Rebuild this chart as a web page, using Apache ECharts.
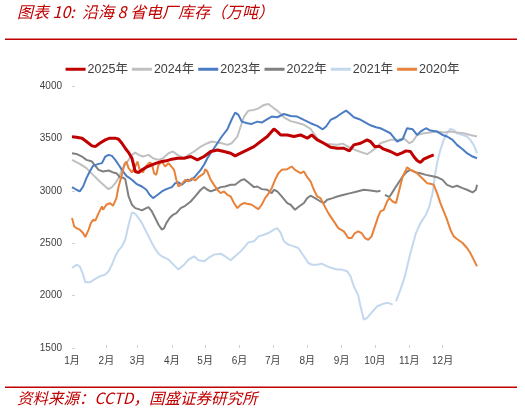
<!DOCTYPE html>
<html>
<head>
<meta charset="utf-8">
<script src="https://cdn.jsdelivr.net/npm/echarts@6/dist/echarts.min.js"></script>
<style>
html,body{margin:0;padding:0;background:#fff;}
#chart{width:525px;height:411px;}
</style>
</head>
<body>
<div id="chart"></div>
<script>
const monthStarts = [0,31,59,90,120,151,181,212,243,273,304,334];
const monthLabels = ['1月','2月','3月','4月','5月','6月','7月','8月','9月','10月','11月','12月'];
const yearNames = ['2025年','2024年','2023年','2022年','2021年','2020年'];
const yearColors = ['#C00000','#C0C0C0','#4A7CC4','#808080','#C3D8EE','#E8823A'];

const s2025 = [[0,3517],[4,3511],[9,3502],[13,3470],[18,3429],[21,3422],[25,3454],[30,3486],[34,3502],[39,3502],[42,3492],[45,3454],[48,3406],[51,3365],[54,3311],[57,3184],[60,3175],[63,3200],[67,3225],[72,3248],[76,3264],[81,3279],[85,3286],[90,3302],[95,3311],[101,3311],[107,3327],[113,3295],[119,3327],[125,3375],[131,3390],[137,3375],[143,3359],[147,3333],[152,3359],[158,3390],[164,3422],[170,3470],[176,3518],[182,3590],[185,3565],[188,3533],[194,3533],[200,3518],[206,3533],[212,3502],[216,3533],[221,3486],[227,3454],[233,3416],[239,3406],[245,3406],[250,3381],[254,3438],[260,3454],[266,3486],[269,3470],[273,3420],[277,3425],[281,3397],[287,3375],[293,3343],[298,3365],[301,3381],[305,3375],[308,3327],[311,3289],[314,3270],[317,3302],[322,3327],[326,3343]];

const s2024 = [[0,3295],[7,3257],[13,3216],[19,3152],[25,3089],[30,3041],[33,3016],[36,3035],[39,3073],[42,3121],[45,3200],[48,3248],[51,3295],[54,3343],[57,3365],[60,3343],[64,3327],[69,3343],[73,3311],[78,3295],[82,3311],[87,3359],[91,3375],[95,3343],[101,3311],[105,3343],[110,3375],[116,3422],[122,3454],[126,3470],[131,3460],[135,3454],[140,3438],[144,3454],[149,3518],[152,3613],[155,3708],[159,3765],[164,3772],[168,3787],[173,3819],[177,3829],[182,3787],[185,3765],[188,3735],[191,3700],[197,3665],[203,3650],[209,3630],[215,3590],[221,3500],[227,3450],[233,3445],[239,3440],[244,3450],[248,3425],[254,3395],[259,3375],[263,3360],[266,3350],[269,3370],[274,3410],[278,3454],[287,3486],[293,3486],[299,3502],[304,3454],[307,3470],[311,3533],[317,3549],[323,3556],[329,3565],[335,3556],[341,3565],[347,3556],[353,3549],[359,3533],[365,3518]];

const s2023 = [[0,3035],[4,3010],[7,2994],[10,3041],[13,3121],[16,3184],[19,3238],[24,3257],[27,3264],[30,3327],[33,3343],[36,3333],[39,3295],[42,3248],[45,3200],[49,3143],[54,3105],[58,3067],[63,3041],[67,3010],[70,2962],[73,2930],[76,2953],[81,2994],[85,3016],[90,3035],[93,3073],[96,3080],[99,3057],[104,3105],[107,3098],[111,3137],[116,3200],[119,3248],[122,3311],[126,3375],[131,3454],[135,3518],[140,3587],[144,3683],[147,3746],[150,3724],[153,3660],[158,3645],[162,3638],[167,3660],[171,3651],[176,3683],[180,3708],[185,3702],[191,3733],[197,3714],[203,3708],[209,3676],[215,3645],[221,3619],[226,3587],[229,3613],[233,3676],[238,3702],[242,3733],[247,3765],[250,3740],[254,3702],[259,3683],[263,3660],[269,3625],[274,3606],[278,3597],[281,3581],[287,3549],[293,3470],[298,3492],[302,3597],[307,3587],[311,3533],[314,3565],[319,3597],[323,3575],[329,3565],[334,3533],[338,3518],[343,3486],[347,3438],[352,3397],[356,3359],[361,3327],[365,3311]];

const s2022 = [[0,3359],[4,3352],[9,3327],[13,3295],[18,3279],[21,3238],[24,3200],[28,3184],[33,3194],[37,3175],[40,3168],[43,3130],[46,3125],[48,3111],[49,3057],[51,2946],[54,2867],[57,2835],[60,2825],[63,2813],[66,2830],[69,2845],[72,2803],[75,2740],[78,2676],[81,2629],[83,2644],[85,2692],[88,2740],[91,2771],[94,2787],[98,2835],[102,2857],[107,2898],[111,2946],[116,3010],[119,3035],[122,3010],[125,2994],[129,3010],[134,3035],[138,3041],[143,3057],[147,3057],[152,3098],[155,3111],[159,3079],[164,3035],[167,3041],[171,3016],[176,3010],[180,2978],[182,3010],[185,2994],[189,2946],[194,2883],[197,2867],[201,2819],[204,2845],[209,2883],[212,2930],[215,2953],[219,2930],[224,2898],[227,2883],[230,2914],[235,2930],[239,2946],[245,2962],[251,2978],[257,2994],[263,3010],[269,3003],[275,2994],[278,3000],[279,null],[282,2962],[286,2940],[289,2990],[293,3057],[298,3137],[302,3184],[305,3200],[310,3175],[314,3168],[319,3152],[323,3143],[329,3130],[334,3105],[338,3057],[343,3035],[347,3048],[352,3026],[356,3010],[361,2984],[364,3010],[365,3057]];

const s2021 = [[0,2263],[4,2295],[7,2279],[10,2200],[12,2127],[16,2127],[21,2159],[25,2184],[30,2200],[33,2232],[36,2295],[39,2375],[42,2432],[45,2470],[48,2533],[51,2676],[54,2794],[57,2781],[60,2740],[63,2692],[66,2629],[69,2565],[72,2502],[75,2444],[78,2400],[81,2375],[84,2359],[87,2343],[90,2311],[93,2279],[96,2248],[101,2295],[105,2343],[110,2375],[114,2337],[119,2327],[123,2359],[128,2391],[134,2400],[138,2375],[143,2337],[147,2375],[152,2422],[156,2470],[159,2508],[164,2518],[168,2565],[173,2581],[177,2597],[182,2629],[185,2644],[188,2600],[191,2518],[195,2486],[200,2470],[204,2454],[207,2406],[210,2359],[213,2311],[216,2295],[221,2295],[225,2305],[230,2279],[234,2264],[239,2248],[243,2248],[248,2232],[251,2184],[254,2089],[258,2000],[260,1898],[263,1771],[266,1787],[269,1825],[275,1898],[281,1924],[285,1930],[289,1914],[290,null],[292,1946],[296,2057],[300,2184],[305,2406],[310,2597],[314,2692],[319,2772],[322,2851],[325,2978],[327,3137],[329,3264],[332,3391],[335,3486],[338,3549],[341,3590],[344,3581],[347,3549],[352,3533],[356,3518],[359,3486],[362,3438],[365,3359]];

const s2020 = [[0,2740],[2,2660],[4,2644],[7,2629],[10,2597],[12,2559],[15,2629],[17,2692],[19,2724],[21,2715],[24,2787],[27,2851],[28,2819],[31,2867],[34,2883],[37,2857],[40,2930],[42,3041],[45,3152],[47,3248],[49,3279],[51,3216],[54,3175],[57,3232],[59,3279],[61,3200],[64,3175],[66,3225],[70,3270],[72,3257],[74,3168],[76,3152],[78,3248],[81,3279],[84,3232],[87,3264],[90,3225],[92,3200],[94,3105],[96,3041],[99,3067],[102,3105],[105,3089],[108,3121],[111,3098],[114,3130],[117,3152],[119,3168],[120,3206],[122,3184],[125,3105],[128,3057],[131,3010],[134,2978],[137,2994],[140,2962],[143,2946],[146,2883],[149,2835],[152,2867],[155,2883],[158,2876],[162,2867],[165,2845],[168,2825],[171,2867],[174,2930],[177,2971],[180,3025],[183,3105],[186,3168],[189,3200],[194,3206],[198,3232],[201,3200],[206,3168],[209,3184],[212,3130],[215,3089],[218,3010],[221,2946],[224,2930],[227,2867],[231,2787],[236,2708],[240,2644],[245,2613],[249,2549],[252,2549],[255,2597],[258,2613],[261,2597],[264,2549],[267,2533],[270,2565],[273,2660],[276,2756],[278,2803],[281,2819],[284,2898],[286,2930],[289,2898],[292,2883],[295,3010],[298,3137],[301,3200],[302,3225],[305,3200],[308,3184],[311,3168],[314,3137],[317,3105],[320,3073],[323,3067],[326,3057],[329,2978],[332,2883],[335,2803],[338,2724],[341,2629],[344,2565],[347,2540],[352,2502],[356,2454],[359,2406],[362,2343],[365,2279]];

const seriesData = [s2025, s2024, s2023, s2022, s2021, s2020];
const widths = [3, 2, 2, 2, 2, 2];
const zs = [10, 3, 4, 3, 2, 5];

const chart = echarts.init(document.getElementById('chart'), null, {renderer: 'canvas'});
const FONT = '"Liberation Sans", Arial, "Noto Sans CJK SC", sans-serif';

const option = {
  backgroundColor: '#ffffff',
  animation: false,
  textStyle: {fontFamily: FONT},
  graphic: [
    {type: 'text', left: 17, top: 4, style: {text: '图表 10:  沿海 8 省电厂库存（万吨）', fill: '#C00000', font: 'italic 16px "Noto Sans CJK SC", sans-serif'}},
    {type: 'rect', shape: {x: 5, y: 38.5, width: 512, height: 1.6}, style: {fill: '#C00000'}},
    {type: 'rect', shape: {x: 5, y: 386.5, width: 512, height: 1.6}, style: {fill: '#C00000'}},
    {type: 'text', left: 17, top: 390, style: {text: '资料来源：CCTD，国盛证券研究所', fill: '#C00000', font: 'italic 15.5px "Noto Sans CJK SC", sans-serif'}}
  ],
  legend: {
    top: 58,
    left: 'center',
    itemWidth: 20,
    itemHeight: 3,
    itemGap: 4,
    icon: 'rect',
    data: yearNames,
    textStyle: {fontSize: 12.5, color: '#404040', fontFamily: FONT, padding: [0, 0, 0, -3]}
  },
  grid: {left: 72, right: 48, top: 86, bottom: 63, containLabel: false},
  xAxis: {
    type: 'value',
    min: 0,
    max: 365,
    axisLine: {show: false},
    splitLine: {show: false},
    axisTick: {show: true, inside: true, length: 3, customValues: monthStarts.slice(1), lineStyle: {color: '#D0D0D0'}},
    axisLabel: {
      customValues: monthStarts,
      margin: 8,
      fontSize: 10,
      color: '#404040',
      formatter: function (v) { const i = monthStarts.indexOf(v); return i >= 0 ? monthLabels[i] : ''; }
    }
  },
  yAxis: {
    type: 'value',
    min: 1500,
    max: 4000,
    interval: 500,
    axisLine: {show: false},
    splitLine: {show: false},
    axisTick: {show: true, inside: true, length: 3, lineStyle: {color: '#D0D0D0'}},
    axisLabel: {fontSize: 10, color: '#404040', margin: 10, formatter: function (v) { return String(v); }}
  },
  series: yearNames.map(function (name, i) {
    return {
      name: name,
      type: 'line',
      data: seriesData[i],
      showSymbol: false,
      symbol: 'none',
      connectNulls: false,
      z: zs[i],
      itemStyle: {color: yearColors[i]},
      lineStyle: {color: yearColors[i], width: widths[i]}
    };
  })
};
chart.setOption(option);
</script>
</body>
</html>
